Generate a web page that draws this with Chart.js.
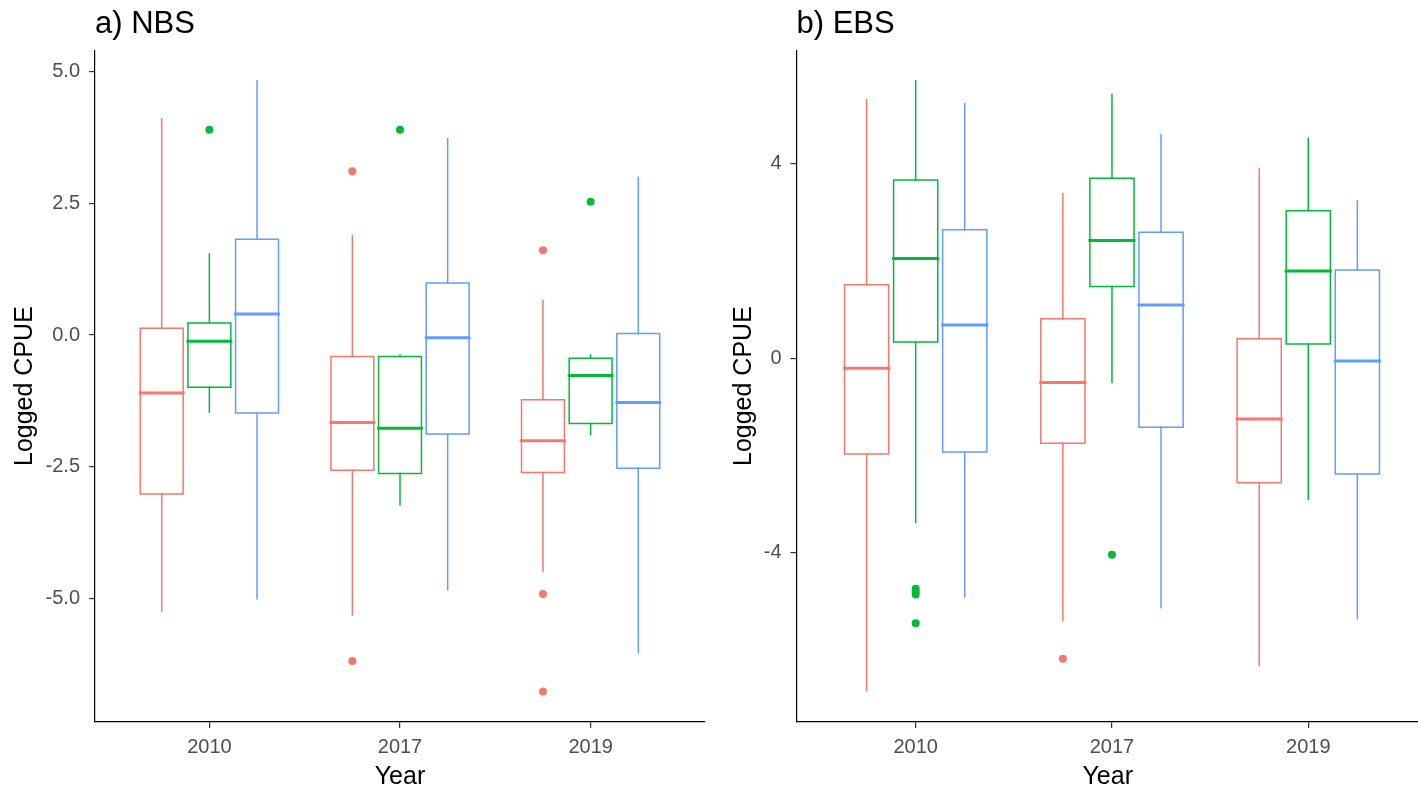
<!DOCTYPE html>
<html lang="en">
<head>
  <meta charset="UTF-8">
  <title>Logged CPUE by year</title>
  <script src="https://cdn.jsdelivr.net/npm/chart.js@4.4.1/dist/chart.umd.min.js"></script>
  <style>
  body {
    margin: 0;
    padding: 0;
    background: #ffffff;
    overflow: hidden;
  }
  .panel {
    position: absolute;
    top: 0;
    height: 796px;
  }
  #panelA { left: 0; width: 709px; }
  #panelB { left: 719px; width: 704px; }
  </style>
</head>
<body>
<div class="panel" id="panelA"><canvas id="nbsChart"></canvas></div>
<div class="panel" id="panelB"><canvas id="ebsChart"></canvas></div>

<script>
  // x categories and group colours
  var years = ['2010', '2017', '2019'];
  var groupColors = ['#F8766D', '#00BA38', '#619CFF'];

  // rows per year: [lower whisker, Q1, median, Q3, upper whisker]
  var nbsRed   = [[-5.24, -3.02, -1.10, 0.13, 4.11], [-5.32, -2.57, -1.66, -0.41, 1.89], [-4.49, -2.61, -2.01, -1.23, 0.65]];
  var nbsGreen = [[-1.46, -0.99, -0.12, 0.23, 1.54], [-3.23, -2.63, -1.77, -0.41, -0.38], [-1.89, -1.68, -0.77, -0.44, -0.38]];
  var nbsBlue  = [[-5.01, -1.48, 0.40, 1.82, 4.83], [-4.84, -1.88, -0.05, 0.99, 3.73], [-6.03, -2.53, -1.28, 0.03, 2.99]];
  var nbsRedOut   = [[], [3.11, -6.19], [1.61, -4.92, -6.77]];
  var nbsGreenOut = [[3.90], [3.90], [2.53]];
  var nbsBlueOut  = [[], [], []];

  var ebsRed   = [[-6.83, -1.97, -0.21, 1.51, 5.31], [-5.39, -1.75, -0.50, 0.81, 3.38], [-6.32, -2.56, -1.25, 0.40, 3.90]];
  var ebsGreen = [[-3.38, 0.33, 2.05, 3.66, 5.70], [-0.50, 1.47, 2.42, 3.70, 5.42], [-2.90, 0.29, 1.79, 3.03, 4.52]];
  var ebsBlue  = [[-4.91, -1.93, 0.68, 2.64, 5.23], [-5.13, -1.42, 1.09, 2.59, 4.59], [-5.36, -2.38, -0.06, 1.81, 3.23]];
  var ebsRedOut   = [[], [-6.18], []];
  var ebsGreenOut = [[-4.74, -4.80, -4.86, -5.45], [-4.04], []];
  var ebsBlueOut  = [[], [], []];

  // y tick values
  var nbsTicks = [-5, -2.5, 0, 2.5, 5];
  var ebsTicks = [-4, 0, 4];

  var fontFamily = "'Liberation Sans', Arial, sans-serif";
  var dodge = [-0.25, 0, 0.25];
  var halfW = 0.1125;

  function segment(points, color, width) {
    return {
      data: points,
      showLine: true,
      borderColor: color,
      borderWidth: width,
      borderCapStyle: 'square',
      pointRadius: 0,
      pointHoverRadius: 0,
      fill: false,
      tension: 0
    };
  }

  function boxDatasets(rows, outs, g) {
    var color = groupColors[g];
    var sets = [];
    rows.forEach(function(r, i) {
      var x = i + 1 + dodge[g];
      sets.push(segment([{x: x, y: r[0]}, {x: x, y: r[1]}], color, 1.5));
      sets.push(segment([{x: x, y: r[3]}, {x: x, y: r[4]}], color, 1.5));
      sets.push(segment([
        {x: x - halfW, y: r[1]}, {x: x + halfW, y: r[1]},
        {x: x + halfW, y: r[3]}, {x: x - halfW, y: r[3]},
        {x: x - halfW, y: r[1]}
      ], color, 1.5));
      sets.push(segment([{x: x - halfW, y: r[2]}, {x: x + halfW, y: r[2]}], color, 3));
    });
    var pts = [];
    outs.forEach(function(list, i) {
      list.forEach(function(v) { pts.push({x: i + 1 + dodge[g], y: v}); });
    });
    sets.push({
      data: pts,
      showLine: false,
      pointRadius: 4,
      pointHoverRadius: 4,
      pointBorderWidth: 0,
      backgroundColor: color,
      borderColor: color
    });
    return sets;
  }

  function makeChart(id, title, sets, yMin, yMax, yTicks, yDigits, xMin, xMax, yWidth, padRight) {
    return new Chart(document.getElementById(id), {
      type: 'scatter',
      data: { datasets: sets },
      options: {
        responsive: true,
        maintainAspectRatio: false,
        animation: false,
        events: [],
        layout: { padding: { left: 0, right: padRight, top: 0, bottom: 0 } },
        plugins: {
          legend: { display: false },
          tooltip: { enabled: false },
          title: {
            display: true,
            text: title,
            align: 'start',
            fullSize: false,
            color: '#000000',
            font: { family: fontFamily, size: 31, weight: 'normal', lineHeight: 1.2 },
            padding: { top: 6, bottom: 7 }
          }
        },
        scales: {
          x: {
            type: 'linear',
            min: xMin,
            max: xMax,
            afterBuildTicks: function(s) { s.ticks = years.map(function(y, i) { return {value: i + 1}; }); },
            afterFit: function(s) { s.height = 74; },
            ticks: {
              callback: function(v) { return years[v - 1]; },
              color: '#4D4D4D',
              font: { family: fontFamily, size: 20 },
              padding: 7,
              maxRotation: 0,
              autoSkip: false
            },
            grid: { drawOnChartArea: false, drawTicks: true, tickLength: 6, color: '#333333', lineWidth: 1.2 },
            border: { display: true, color: '#000000', width: 1.2 },
            title: {
              display: true,
              text: 'Year',
              color: '#000000',
              font: { family: fontFamily, size: 25, lineHeight: 1.2 },
              padding: { top: 0, bottom: 4 }
            }
          },
          y: {
            type: 'linear',
            min: yMin,
            max: yMax,
            afterBuildTicks: function(s) { s.ticks = yTicks.map(function(v) { return {value: v}; }); },
            afterFit: function(s) { s.width = yWidth; },
            ticks: {
              callback: function(v) { return v.toFixed(yDigits); },
              color: '#4D4D4D',
              font: { family: fontFamily, size: 20 },
              padding: 9
            },
            grid: { drawOnChartArea: false, drawTicks: true, tickLength: 6, color: '#333333', lineWidth: 1.2 },
            border: { display: true, color: '#000000', width: 1.2 },
            title: {
              display: true,
              text: 'Logged CPUE',
              color: '#000000',
              font: { family: fontFamily, size: 25, lineHeight: 1.2 },
              padding: { top: 10, bottom: 0 }
            }
          }
        }
      }
    });
  }

  var nbsSets = [].concat(
    boxDatasets(nbsRed, nbsRedOut, 0),
    boxDatasets(nbsGreen, nbsGreenOut, 1),
    boxDatasets(nbsBlue, nbsBlueOut, 2)
  );
  var ebsSets = [].concat(
    boxDatasets(ebsRed, ebsRedOut, 0),
    boxDatasets(ebsGreen, ebsGreenOut, 1),
    boxDatasets(ebsBlue, ebsBlueOut, 2)
  );

  makeChart('nbsChart', 'a) NBS', nbsSets, -7.35, 5.41, nbsTicks, 1, 0.4, 3.6, 95, 4);
  makeChart('ebsChart', 'b) EBS', ebsSets, -7.48, 6.33, ebsTicks, 0, 0.393, 3.564, 77.5, 0);
</script>
</body>
</html>
